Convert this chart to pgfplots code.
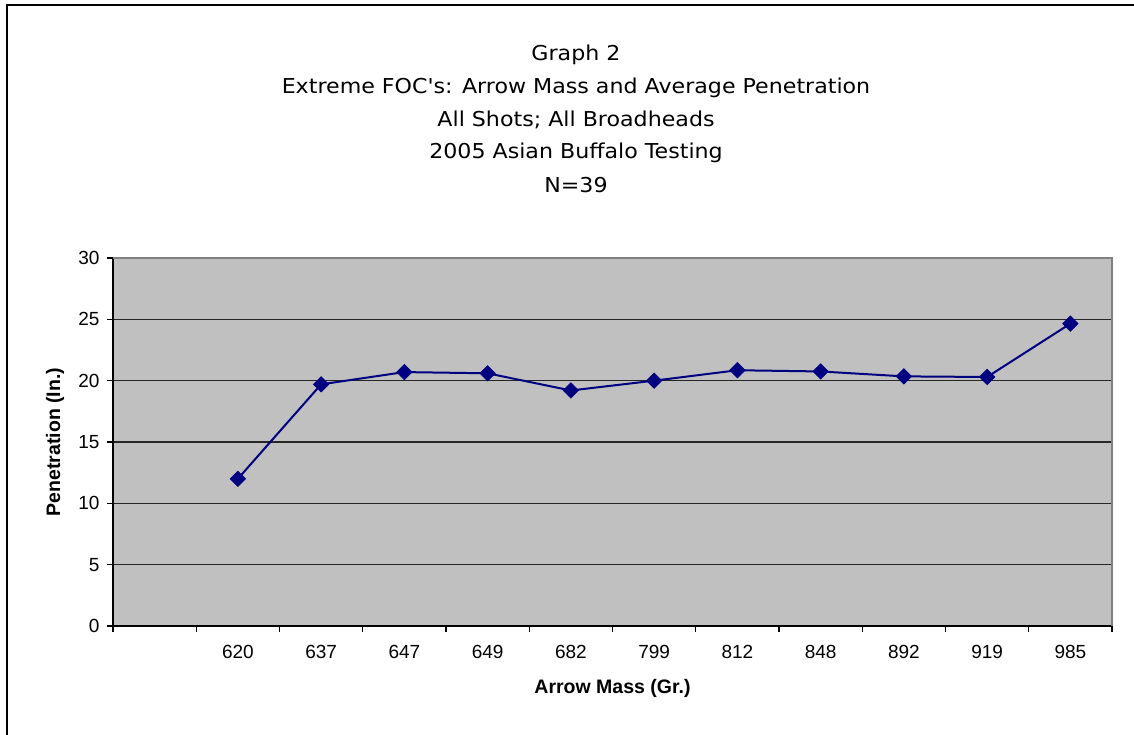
\documentclass[border=0pt]{standalone}
\usepackage{fontspec}
\setmainfont{Liberation Sans}
\newfontfamily\titlefont[FakeStretch=1.08]{DejaVu Sans}
\usepackage{pgfplots}
\pgfplotsset{compat=1.18}
\definecolor{navyline}{HTML}{000080}
\definecolor{plotgray}{HTML}{C0C0C0}
\definecolor{bordergray}{HTML}{808080}
\pgfplotstableread{
x y
1.5 12.0
2.5 19.7
3.5 20.7
4.5 20.6
5.5 19.2
6.5 20.0
7.5 20.85
8.5 20.75
9.5 20.35
10.5 20.3
11.5 24.65
}\penetration
\begin{document}
\begin{tikzpicture}
\useasboundingbox (0pt,0pt) rectangle (1134pt,734pt);
\begin{scope}
\clip (0pt,0pt) rectangle (1134pt,734pt);
\draw[line width=2pt] (7pt,-10pt) rectangle (1150pt,729pt);
\end{scope}
\begin{scope}[every node/.style={font=\titlefont\fontsize{20.5}{24}\selectfont}]
\node at (576pt,679.5pt) {Graph 2};
\node at (576pt,646.5pt) {Extreme FOC's: Arrow Mass and Average Penetration};
\node at (576pt,614.5pt) {All Shots; All Broadheads};
\node at (576pt,581.5pt) {2005 Asian Buffalo Testing};
\node at (576pt,548.5pt) {N=39};
\end{scope}
\begin{axis}[
  at={(113pt,108pt)}, anchor=south west,
  width=999pt, height=368pt, scale only axis,
  xmin=0, xmax=12, ymin=0, ymax=30,
  axis x line*=bottom, axis y line*=left,
  axis line style={line width=1.5pt, black, -},
  axis background/.style={fill=plotgray},
  xtick={1.5,2.5,...,11.5},
  xticklabels={620,637,647,649,682,799,812,848,892,919,985},
  major x tick style={draw=none},
  minor xtick={0,1,...,12},
  minor x tick style={line width=1.2pt, black},
  minor tick length=6pt,
  ytick={0,5,...,30},
  y tick style={line width=1.2pt, black},
  major tick length=6pt,
  tick align=outside,
  ymajorgrids,
  grid style={line width=1.2pt, black!85},
  /pgf/number format/assume math mode=true,
  tick label style={font=\fontsize{19}{22}\selectfont},
  xticklabel style={yshift=-10pt},
  yticklabel style={xshift=-4pt},
  xlabel={Arrow Mass (Gr.)},
  ylabel={Penetration (In.)},
  label style={font=\bfseries\fontsize{19.5}{22}\selectfont},
  xlabel style={at={(axis description cs:0.5,-0.1685)}, anchor=center},
  ylabel style={at={(axis description cs:-0.058,0.5)}, anchor=center},
  clip=false,
]
\addplot[color=navyline, line width=2pt, mark=square*, mark size=5.5pt,
  mark options={rotate=45, fill=navyline, draw=navyline, line width=0.5pt}]
  table[x=x, y=y] {\penetration};
\draw[bordergray, line width=2pt] (rel axis cs:0,1) -- (rel axis cs:1,1) -- (rel axis cs:1,0);
\end{axis}
\end{tikzpicture}
\end{document}
